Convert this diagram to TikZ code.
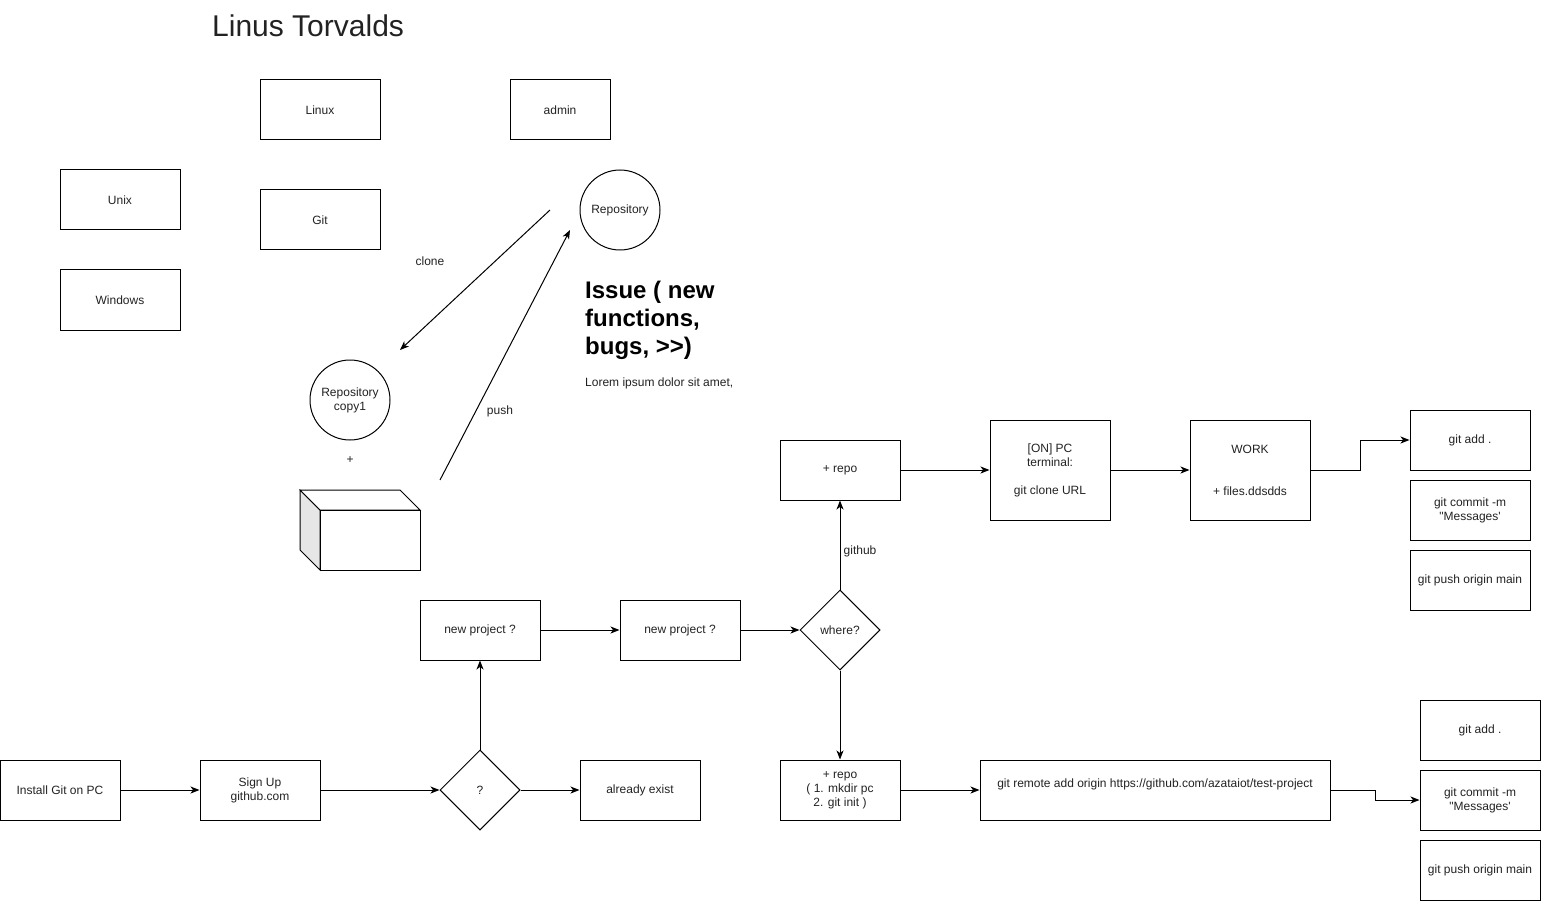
\documentclass[tikz,border=0pt]{standalone}
\usepackage{fontspec}
\setmainfont{Liberation Sans}[Ligatures=TeXOff]
\usetikzlibrary{shapes.geometric,arrows.meta}
\definecolor{txt}{HTML}{222222}
\definecolor{cubeside}{HTML}{E6E6E6}
\tikzset{
  base/.style={draw=black, line width=1pt, inner sep=0pt, align=center, text=txt,
    font=\fontsize{12}{14}\selectfont},
  box/.style={base, rectangle, minimum width=120pt, minimum height=60pt},
  circ/.style={base, circle, minimum size=80pt},
  dia/.style={base, diamond, minimum width=80pt, minimum height=80pt, aspect=1},
  lbl/.style={inner sep=0pt, align=center, text=txt, font=\fontsize{12}{14}\selectfont},
  arr/.style={line width=1pt, -{Stealth[length=9pt,width=7pt,inset=2.5pt]}},
}
\begin{document}
\begin{tikzpicture}[x=1pt,y=-1pt]
\useasboundingbox (0,0) rectangle (1541,901);
% title
\node[inner sep=0pt, anchor=west, text=txt, font=\fontsize{30}{34}\selectfont] (title) at (212,26) {Linus Torvalds};
% top boxes
\node[box] (linux) at (320,110) {Linux};
\node[box, minimum width=100pt] (admin) at (560,110) {admin};
\node[box] (unix) at (120,200) {Unix};
\node[box] (git) at (320,220) {Git};
\node[box] (windows) at (120,300) {Windows};
\node[circ] (repo) at (620,210) {Repository};
\node[circ] (copy) at (350,400) {Repository\\copy1};
\node[lbl] (plus) at (350,460) {+};
% cube
\draw[line width=1pt, fill=cubeside] (300,490) -- (320,510) -- (320,570) -- (300,550) -- cycle;
\draw[line width=1pt, fill=white] (300,490) -- (400,490) -- (420,510) -- (320,510) -- cycle;
\draw[line width=1pt, fill=white] (320,510) rectangle (420,570);
% clone / push
\coordinate (cloneS) at (550,210);
\coordinate (cloneE) at (400,350);
\coordinate (pushS) at (440,480);
\coordinate (pushE) at (570,230);
\draw[arr] (cloneS) -- (cloneE);
\draw[arr] (pushS) -- (pushE);
\node[lbl] (clonel) at (430,261) {clone};
\node[lbl] (pushl) at (500,411) {push};
% issue text
\node[inner sep=0pt, anchor=north west, align=left, text=black, font=\fontsize{24}{28}\bfseries\selectfont] (issue) at (585,281) {Issue ( new\\functions,\\bugs, >>)};
\node[lbl, anchor=west] (lorem) at (585,383) {Lorem ipsum dolor sit amet,};
% bottom flow
\node[box] (install) at (60,790) {Install Git on PC};
\node[box] (signup) at (260,790) {Sign Up\\github.com};
\node[dia] (q) at (480,790) {?};
\node[box] (exist) at (640,790) {already exist};
\node[box] (np1) at (480,630) {new project ?};
\node[box] (np2) at (680,630) {new project ?};
\node[dia] (where) at (840,630) {where?};
\node[box] (repotop) at (840,470) {+ repo};
\node[box] (repobot) at (840,790) {+ repo\\( 1. mkdir pc\\2. git init )};
\node[box, minimum height=100pt] (onpc) at (1050,470) {[ON] PC\\terminal:\\[14pt]git clone URL};
\node[box, minimum height=100pt] (work) at (1250,470) {WORK\\[28pt]+ files.ddsdds};
\node[box] (add1) at (1470,440) {git add .};
\node[box] (com1) at (1470,510) {git commit -m\\"Messages'};
\node[box] (push1) at (1470,580) {git push origin main};
\node[box, minimum width=350pt] (remote) at (1155,790) {};
\node[lbl] (remotet) at (1155,784) {git remote add origin https://github.com/azataiot/test-project};
\node[box] (add2) at (1480,730) {git add .};
\node[box] (com2) at (1480,800) {git commit -m\\"Messages'};
\node[box] (push2) at (1480,870) {git push origin main};
% connectors
\draw[arr] (install) -- (signup);
\draw[arr] (signup) -- (q);
\draw[arr] (q) -- (exist);
\draw[arr] (q) -- (np1);
\draw[arr] (np1) -- (np2);
\draw[arr] (np2) -- (where);
\draw[arr] (where) -- (repotop);
\node[lbl] (githubl) at (860,551) {github};
\draw[arr] (where) -- (repobot);
\draw[arr] (repotop) -- (onpc);
\draw[arr] (onpc) -- (work);
\draw[arr] (work.east) -- (1360,470) -- (1360,440) -- (add1.west);
\draw[arr] (repobot) -- (remote);
\draw[arr] (remote.east) -- (1375,790) -- (1375,800) -- (com2.west);
\end{tikzpicture}
\end{document}
